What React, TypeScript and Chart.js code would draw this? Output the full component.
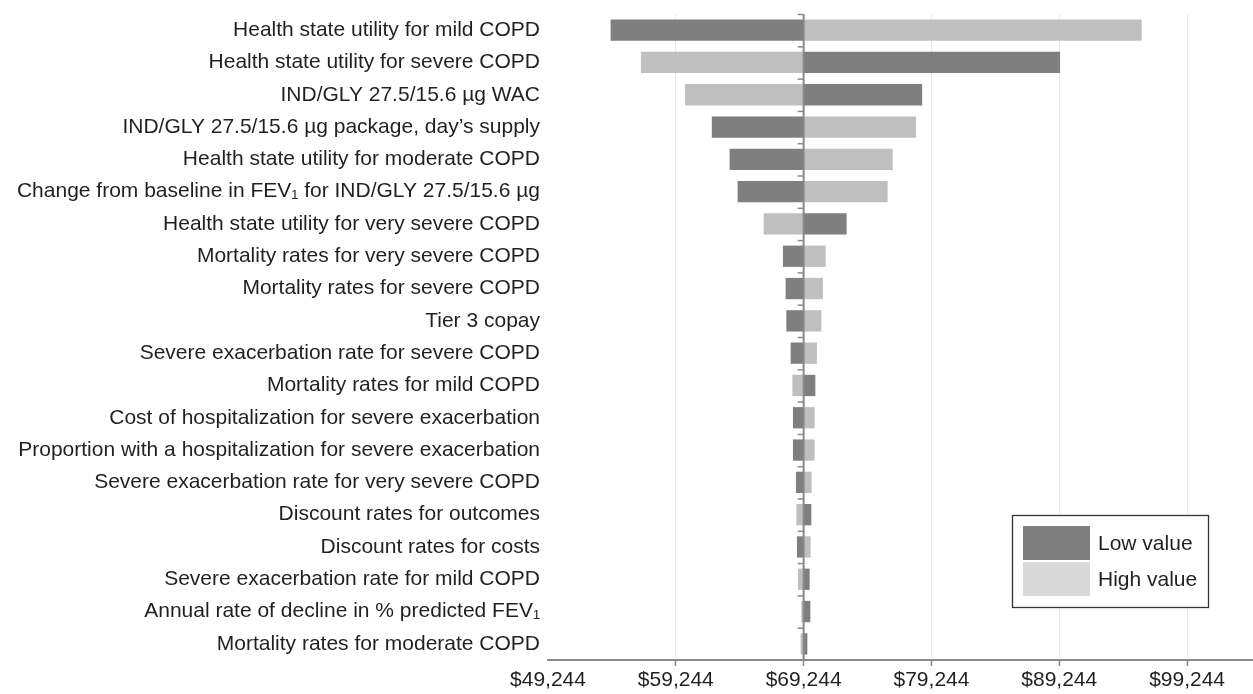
import React, { useEffect, useRef } from "react";
import { Chart, registerables } from "chart.js";

Chart.register(...registerables);

const categories: string[] = [
  "Health state utility for mild COPD",
  "Health state utility for severe COPD",
  "IND/GLY 27.5/15.6 µg WAC",
  "IND/GLY 27.5/15.6 µg package, day’s supply",
  "Health state utility for moderate COPD",
  "Change from baseline in FEV₁ for IND/GLY 27.5/15.6 µg",
  "Health state utility for very severe COPD",
  "Mortality rates for very severe COPD",
  "Mortality rates for severe COPD",
  "Tier 3 copay",
  "Severe exacerbation rate for severe COPD",
  "Mortality rates for mild COPD",
  "Cost of hospitalization for severe exacerbation",
  "Proportion with a hospitalization for severe exacerbation",
  "Severe exacerbation rate for very severe COPD",
  "Discount rates for outcomes",
  "Discount rates for costs",
  "Severe exacerbation rate for mild COPD",
  "Annual rate of decline in % predicted FEV₁",
  "Mortality rates for moderate COPD",
];

const baseCase = 69244;

const lowValueResults: number[] = [
  54142, 89307, 78517, 62061, 63454, 64080, 72609, 67624, 67835, 67890,
  68227, 70160, 68407, 68407, 68641, 69847, 68720, 69714, 69768, 69534,
];

const highValueResults: number[] = [
  95692, 56513, 59964, 78031, 76208, 75817, 66114, 70966, 70754, 70629,
  70285, 68360, 70105, 70105, 69870, 68673, 69792, 68798, 69064, 69009,
];

const xTickValues: number[] = [49244, 59244, 69244, 79244, 89244, 99244];
const xMin = 49244;
const xMax = 104400;

const seriesNames = ["Low value", "High value"];
const barColors = ["#7f7f7f", "#bfbfbf"];
const legendColors = ["#7f7f7f", "#d9d9d9"];

const FONT = "'Liberation Sans', Arial, Helvetica, sans-serif";
const TEXT = "#231f20";
const AXIS = "#8a8a8a";

const centerLinePlugin = {
  id: "centerLine",
  afterDatasetsDraw(chart: any) {
    const { ctx, chartArea, scales } = chart;
    const x = scales.x.getPixelForValue(baseCase);
    const y = scales.y;
    ctx.save();
    ctx.strokeStyle = AXIS;
    ctx.lineWidth = 2;
    ctx.beginPath();
    ctx.moveTo(x, chartArea.top);
    ctx.lineTo(x, chartArea.bottom);
    ctx.stroke();
    ctx.lineWidth = 1.5;
    for (let i = 0; i < categories.length; i++) {
      const yy =
        i === 0
          ? chartArea.top
          : (y.getPixelForValue(i) + y.getPixelForValue(i - 1)) / 2;
      ctx.beginPath();
      ctx.moveTo(x - 6, yy + 0.5);
      ctx.lineTo(x, yy + 0.5);
      ctx.stroke();
    }
    ctx.restore();
  },
};

const boxLegendPlugin = {
  id: "boxLegend",
  afterDraw(chart: any) {
    const { ctx, chartArea } = chart;
    const boxW = 196;
    const boxH = 92;
    const left = chartArea.right - 45 - boxW;
    const top = chartArea.bottom - 53 - boxH;
    ctx.save();
    ctx.fillStyle = "#ffffff";
    ctx.fillRect(left, top, boxW, boxH);
    ctx.strokeStyle = "#333333";
    ctx.lineWidth = 1.3;
    ctx.strokeRect(left + 0.5, top + 0.5, boxW, boxH);
    const sw = 67;
    const sh = 34;
    chart.data.datasets.forEach((ds: any, i: number) => {
      const sx = left + 11;
      const sy = top + 11 + i * (sh + 2);
      ctx.fillStyle = legendColors[i];
      ctx.fillRect(sx, sy, sw, sh);
      ctx.fillStyle = TEXT;
      ctx.font = `21px ${FONT}`;
      ctx.textBaseline = "middle";
      ctx.textAlign = "left";
      ctx.fillText(ds.label, sx + sw + 8, sy + sh / 2 + 1);
    });
    ctx.restore();
  },
};

export default function App() {
  const canvasRef = useRef<HTMLCanvasElement | null>(null);

  useEffect(() => {
    if (!canvasRef.current) return;
    const chart = new Chart(canvasRef.current, {
      type: "bar",
      data: {
        labels: categories,
        datasets: [
          {
            label: seriesNames[0],
            data: categories.map((_, i) => [baseCase, lowValueResults[i]]) as any,
            backgroundColor: barColors[0],
            borderWidth: 0,
            grouped: false,
            categoryPercentage: 1,
            barPercentage: 0.66,
          } as any,
          {
            label: seriesNames[1],
            data: categories.map((_, i) => [baseCase, highValueResults[i]]) as any,
            backgroundColor: barColors[1],
            borderWidth: 0,
            grouped: false,
            categoryPercentage: 1,
            barPercentage: 0.66,
          } as any,
        ],
      },
      options: {
        indexAxis: "y",
        responsive: false,
        maintainAspectRatio: false,
        animation: false,
        devicePixelRatio: 1,
        layout: { padding: { top: 14, right: 0, left: 0, bottom: 0 } },
        plugins: {
          legend: { display: false },
          tooltip: { enabled: false },
        },
        scales: {
          x: {
            type: "linear",
            min: xMin,
            max: xMax,
            afterBuildTicks: (s: any) => {
              s.ticks = xTickValues.map((v) => ({ value: v }));
            },
            afterFit: (s: any) => {
              s.height = 34;
            },
            ticks: {
              autoSkip: false,
              maxRotation: 0,
              padding: 2,
              color: TEXT,
              font: { family: FONT, size: 21 },
              callback: (v: any) => "$" + Number(v).toLocaleString("en-US"),
            },
            grid: {
              color: (c: any) => (c.index === 0 ? "rgba(0,0,0,0)" : "#eaeaea"),
              tickColor: (c: any) => (c.index === 0 ? "rgba(0,0,0,0)" : AXIS),
              tickLength: 6,
              lineWidth: 1,
              tickWidth: 1.5,
            },
            border: { color: AXIS, width: 2 },
          },
          y: {
            type: "category",
            afterFit: (s: any) => {
              s.width = 548;
              s.paddingTop = 0;
              s.paddingBottom = 0;
            },
            grid: { display: false, drawTicks: false },
            border: { display: false },
            ticks: {
              autoSkip: false,
              padding: 8,
              color: TEXT,
              font: { family: FONT, size: 21 },
            },
          },
        },
      } as any,
      plugins: [centerLinePlugin, boxLegendPlugin],
    });
    return () => chart.destroy();
  }, []);

  return (
    <div
      style={{
        position: "absolute",
        left: 0,
        top: 0,
        width: 1253,
        height: 694,
        background: "#ffffff",
      }}
    >
      <canvas
        ref={canvasRef}
        width={1253}
        height={694}
        style={{ width: 1253, height: 694, display: "block" }}
      />
    </div>
  );
}
